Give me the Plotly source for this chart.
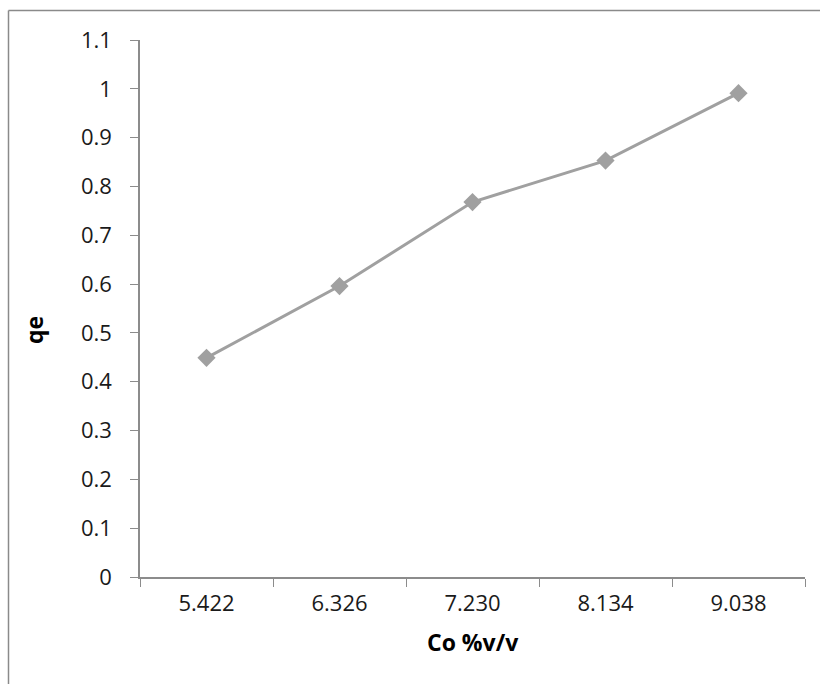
import plotly.graph_objects as go

categories = ["5.422", "6.326", "7.230", "8.134", "9.038"]
qe_values = [0.449, 0.596, 0.768, 0.853, 0.991]
y_ticks = [0, 0.1, 0.2, 0.3, 0.4, 0.5, 0.6, 0.7, 0.8, 0.9, 1, 1.1]
y_tick_labels = ["0", "0.1", "0.2", "0.3", "0.4", "0.5", "0.6", "0.7", "0.8", "0.9", "1", "1.1"]

W, H = 820, 684
L, R, T, B = 140, 15, 40, 107
pw, ph = W - L - R, H - T - B

FONT = "Open Sans"
GRAY = "#a0a0a0"
AXIS = "#8c8c8c"

fig = go.Figure(go.Scatter(
    x=categories, y=qe_values, mode="lines+markers",
    line=dict(color=GRAY, width=3),
    marker=dict(symbol="diamond", size=14, color=GRAY),
))

fig.update_layout(
    width=W, height=H,
    margin=dict(l=L, r=R, t=T, b=B),
    paper_bgcolor="white", plot_bgcolor="white",
    showlegend=False,
    font=dict(family=FONT, size=22, color="#1a1a1a"),
    xaxis=dict(
        type="category", range=[-0.5, 4.5],
        tickson="boundaries", ticks="outside", ticklen=8, tickcolor=AXIS,
        showline=True, linecolor=AXIS, linewidth=1.5,
        showgrid=False, zeroline=False, ticklabelstandoff=6,
        tickfont=dict(family=FONT, size=22, color="#1a1a1a"),
    ),
    yaxis=dict(
        range=[0, 1.1], tickvals=y_ticks, ticktext=y_tick_labels,
        ticks="outside", ticklen=8, tickcolor=AXIS,
        showline=True, linecolor=AXIS, linewidth=1.5,
        showgrid=False, zeroline=False, ticklabelstandoff=14,
        tickfont=dict(family=FONT, size=22, color="#1a1a1a"),
    ),
    annotations=[
        dict(text="<b>Co %v/v</b>", xref="paper", yref="paper",
             x=0.5, y=(H - B - 642) / ph, yanchor="middle", xanchor="center",
             showarrow=False, font=dict(family=FONT, size=23, color="#000")),
        dict(text="<b>qe</b>", xref="paper", yref="paper",
             x=(34 - L) / pw, y=(H - B - 330) / ph, xanchor="center", yanchor="middle",
             textangle=-90, showarrow=False, font=dict(family=FONT, size=23, color="#000")),
    ],
    shapes=[
        dict(type="line", xref="paper", yref="paper",
             x0=(8.5 - L) / pw, x1=(8.5 - L) / pw, y0=(H - B - 10.5) / ph, y1=-0.5,
             line=dict(color="#8a8a8a", width=1.5)),
        dict(type="line", xref="paper", yref="paper",
             x0=(8.5 - L) / pw, x1=1.5, y0=(H - B - 10.5) / ph, y1=(H - B - 10.5) / ph,
             line=dict(color="#8a8a8a", width=1.5)),
    ],
)

fig.write_html("out.html")
